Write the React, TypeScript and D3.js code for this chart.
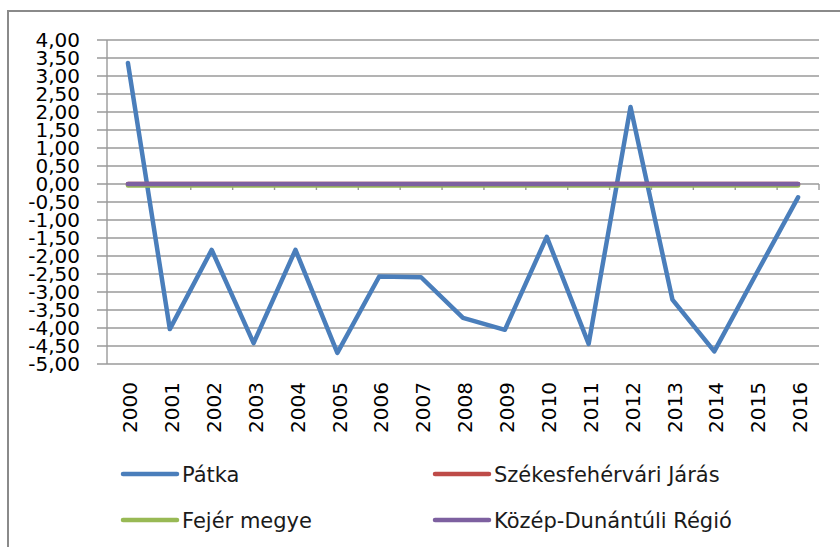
import React from 'react';
import * as d3 from 'd3';

const years = ['2000', '2001', '2002', '2003', '2004', '2005', '2006', '2007', '2008',
  '2009', '2010', '2011', '2012', '2013', '2014', '2015', '2016'];

const patka = [3.36, -4.03, -1.83, -4.42, -1.83, -4.69, -2.57, -2.59, -3.72,
  -4.05, -1.47, -4.44, 2.14, -3.21, -4.65, -2.5, -0.37];
const jaras = [0, 0, 0, 0, 0, 0, 0, 0, 0, 0, 0, 0, 0, 0, 0, 0, 0];
const megye = [-0.04, -0.04, -0.04, -0.04, -0.04, -0.04, -0.04, -0.04, -0.04,
  -0.04, -0.04, -0.04, -0.04, -0.04, -0.04, -0.04, -0.04];
const regio = [0, 0, 0, 0, 0, 0, 0, 0, 0, 0, 0, 0, 0, 0, 0, 0, 0];

const yTicks = d3.range(-5, 4.001, 0.5);

const series = [
  { name: 'Pátka', values: patka, color: '#4a7ebb' },
  { name: 'Székesfehérvári Járás', values: jaras, color: '#be4b48' },
  { name: 'Fejér megye', values: megye, color: '#98b954' },
  { name: 'Közép-Dunántúli Régió', values: regio, color: '#7d60a0' },
];

// lines are drawn with Pátka first, then the flat ones on top
const drawOrder = [0, 1, 2, 3];

const left = 107, right = 819, top = 40, bottom = 364;
const font = '"DejaVu Sans", Verdana, sans-serif';

export default function App() {
  const x = d3.scaleBand().domain(years).range([left, right]);
  const y = d3.scaleLinear().domain([-5, 4]).range([bottom, top]);
  const cx = (i) => x(years[i]) + x.bandwidth() / 2;
  const line = d3.line().x((d, i) => cx(i)).y((d) => y(d));
  const fmt = (v) => d3.format('.2f')(v).replace('.', ',').replace('−', '-');

  return (
    <svg width={840} height={547} style={{ position: 'absolute', left: 0, top: 0, background: '#fff' }}>
      <rect x={8} y={11} width={900} height={600} fill="#fff" stroke="#8a8a8a" strokeWidth={2} />

      {yTicks.map((t) => (
        <line key={'g' + t} x1={left - 10} x2={right} y1={y(t)} y2={y(t)} stroke="#9a9a9a" strokeWidth={1.4} />
      ))}
      <line x1={left} x2={left} y1={top} y2={bottom} stroke="#9a9a9a" strokeWidth={1.4} />

      {years.map((yr, i) => (
        <line key={'t' + yr} x1={x(yr) + x.bandwidth()} x2={x(yr) + x.bandwidth()} y1={y(0)} y2={y(0) + 6}
          stroke="#9a9a9a" strokeWidth={1.4} />
      ))}

      {yTicks.map((t) => (
        <text key={'l' + t} x={80} y={y(t)} dy="0.36em" textAnchor="end" fontFamily={font} fontSize={20} fill="#000">
          {fmt(t)}
        </text>
      ))}

      {years.map((yr, i) => (
        <text key={'x' + yr} transform={`translate(${cx(i) + 2},382) rotate(-90)`} dy="0.36em" textAnchor="end"
          fontFamily={font} fontSize={20} fill="#000">
          {yr}
        </text>
      ))}

      {drawOrder.map((k) => (
        <path key={series[k].name} d={line(series[k].values)} fill="none" stroke={series[k].color}
          strokeWidth={4.5} strokeLinejoin="round" strokeLinecap="round" />
      ))}

      {series.map((s, i) => {
        const lx = i % 2 === 0 ? 123 : 435;
        const ly = i < 2 ? 474 : 520;
        return (
          <g key={'lg' + s.name}>
            <line x1={lx} x2={lx + 54} y1={ly} y2={ly} stroke={s.color} strokeWidth={4.5} strokeLinecap="round" />
            <text x={lx + 59} y={ly} dy="0.36em" fontFamily={font} fontSize={21} fill="#1a1a1a">{s.name}</text>
          </g>
        );
      })}
    </svg>
  );
}
